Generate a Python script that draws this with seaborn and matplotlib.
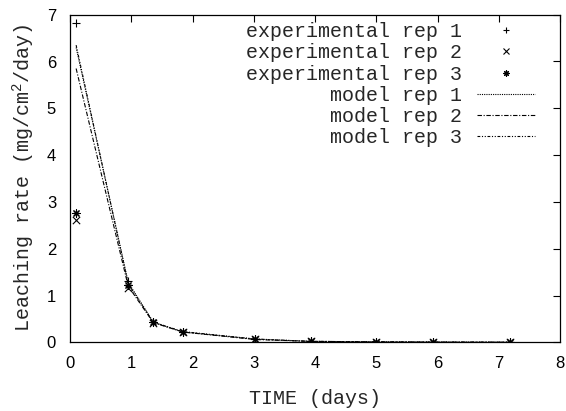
import matplotlib
matplotlib.use("Agg")
import matplotlib.pyplot as plt
from matplotlib.lines import Line2D
import seaborn as sns
import pandas as pd

time_days = [0.1, 0.95, 1.36, 1.84, 3.02, 3.93, 4.99, 5.93, 7.18]
exp_rep1 = [6.83, 1.30, 0.43, 0.23, 0.07, 0.02, 0.01, 0.01, 0.005]
exp_rep2 = [2.61, 1.15, 0.42, 0.22, 0.06, 0.02, 0.01, 0.005, 0.004]
exp_rep3 = [2.77, 1.22, 0.43, 0.23, 0.07, 0.02, 0.01, 0.005, 0.004]
model_rep1 = [6.30, 1.28, 0.43, 0.22, 0.07, 0.02, 0.01, 0.005, 0.002]
model_rep2 = [5.85, 1.20, 0.42, 0.22, 0.06, 0.02, 0.01, 0.005, 0.002]
model_rep3 = [6.35, 1.25, 0.43, 0.23, 0.07, 0.02, 0.01, 0.005, 0.002]

exp_labels = ["experimental rep 1", "experimental rep 2", "experimental rep 3"]
model_labels = ["model rep 1", "model rep 2", "model rep 3"]
x_ticks = [0, 1, 2, 3, 4, 5, 6, 7, 8]
y_ticks = [0, 1, 2, 3, 4, 5, 6, 7]

sns.set_style("white")
plt.rcParams['font.family'] = ['Liberation Sans', 'DejaVu Sans']
plt.rcParams['mathtext.fontset'] = 'custom'
plt.rcParams['mathtext.rm'] = 'Liberation Mono'
plt.rcParams['mathtext.it'] = 'Liberation Mono'

mono = "Liberation Mono"

fig = plt.figure(figsize=(5.66, 4.11), dpi=100)
ax = fig.add_axes([70/566, (411-342.3)/411, (560-70)/566, (342.3-14.7)/411])

df = pd.DataFrame({"t": time_days, "e1": exp_rep1, "e2": exp_rep2, "e3": exp_rep3,
                   "m1": model_rep1, "m2": model_rep2, "m3": model_rep3})

line_styles = [(0, (1, 1)), (0, (4, 1.5, 1, 1.5)), (0, (2.5, 1.5, 1, 1.5, 1, 1.5))]
markers = ["+", "x", (8, 2, 0)]

for col, ls in zip(["m1", "m2", "m3"], line_styles):
    sns.lineplot(data=df, x="t", y=col, ax=ax, color="black", linewidth=0.8,
                 linestyle=ls, sort=False, estimator=None)

for col, mk in zip(["e1", "e2", "e3"], markers):
    sns.scatterplot(data=df, x="t", y=col, ax=ax, color="black", marker=mk,
                    s=28, linewidth=0.8, zorder=3)

ax.set_xlim(0, 8)
ax.set_ylim(0, 7)
ax.set_xticks(x_ticks)
ax.set_yticks(y_ticks)
ax.tick_params(direction="in", length=5, width=0.8, top=True, right=True,
               labelsize=12, pad=10, colors="black")
for sp in ax.spines.values():
    sp.set_color("black")
    sp.set_linewidth(0.9)

ax.set_xlabel("TIME (days)", fontfamily=mono, fontsize=14.4, labelpad=12.5)
ax.set_ylabel("Leaching rate (mg/cm$^{2}$/day)", fontfamily=mono, fontsize=14.4, labelpad=7)

handles = []
for mk in markers:
    handles.append(Line2D([], [], color="black", marker=mk, linestyle="",
                          markersize=4.5, markeredgewidth=0.8))
for ls in line_styles:
    handles.append(Line2D([], [], color="black", linestyle=ls, linewidth=0.8))

width = max(len(s) for s in exp_labels + model_labels)
labels = [s.rjust(width) for s in exp_labels + model_labels]

leg = ax.legend(handles, labels, loc="upper right", bbox_to_anchor=(0.977, 1.02),
                frameon=False, markerfirst=False, prop={"family": mono, "size": 14.4},
                handlelength=2.9, handletextpad=0.75, labelspacing=0.11,
                borderpad=0.2)

fig.savefig("out.png", dpi=100)
